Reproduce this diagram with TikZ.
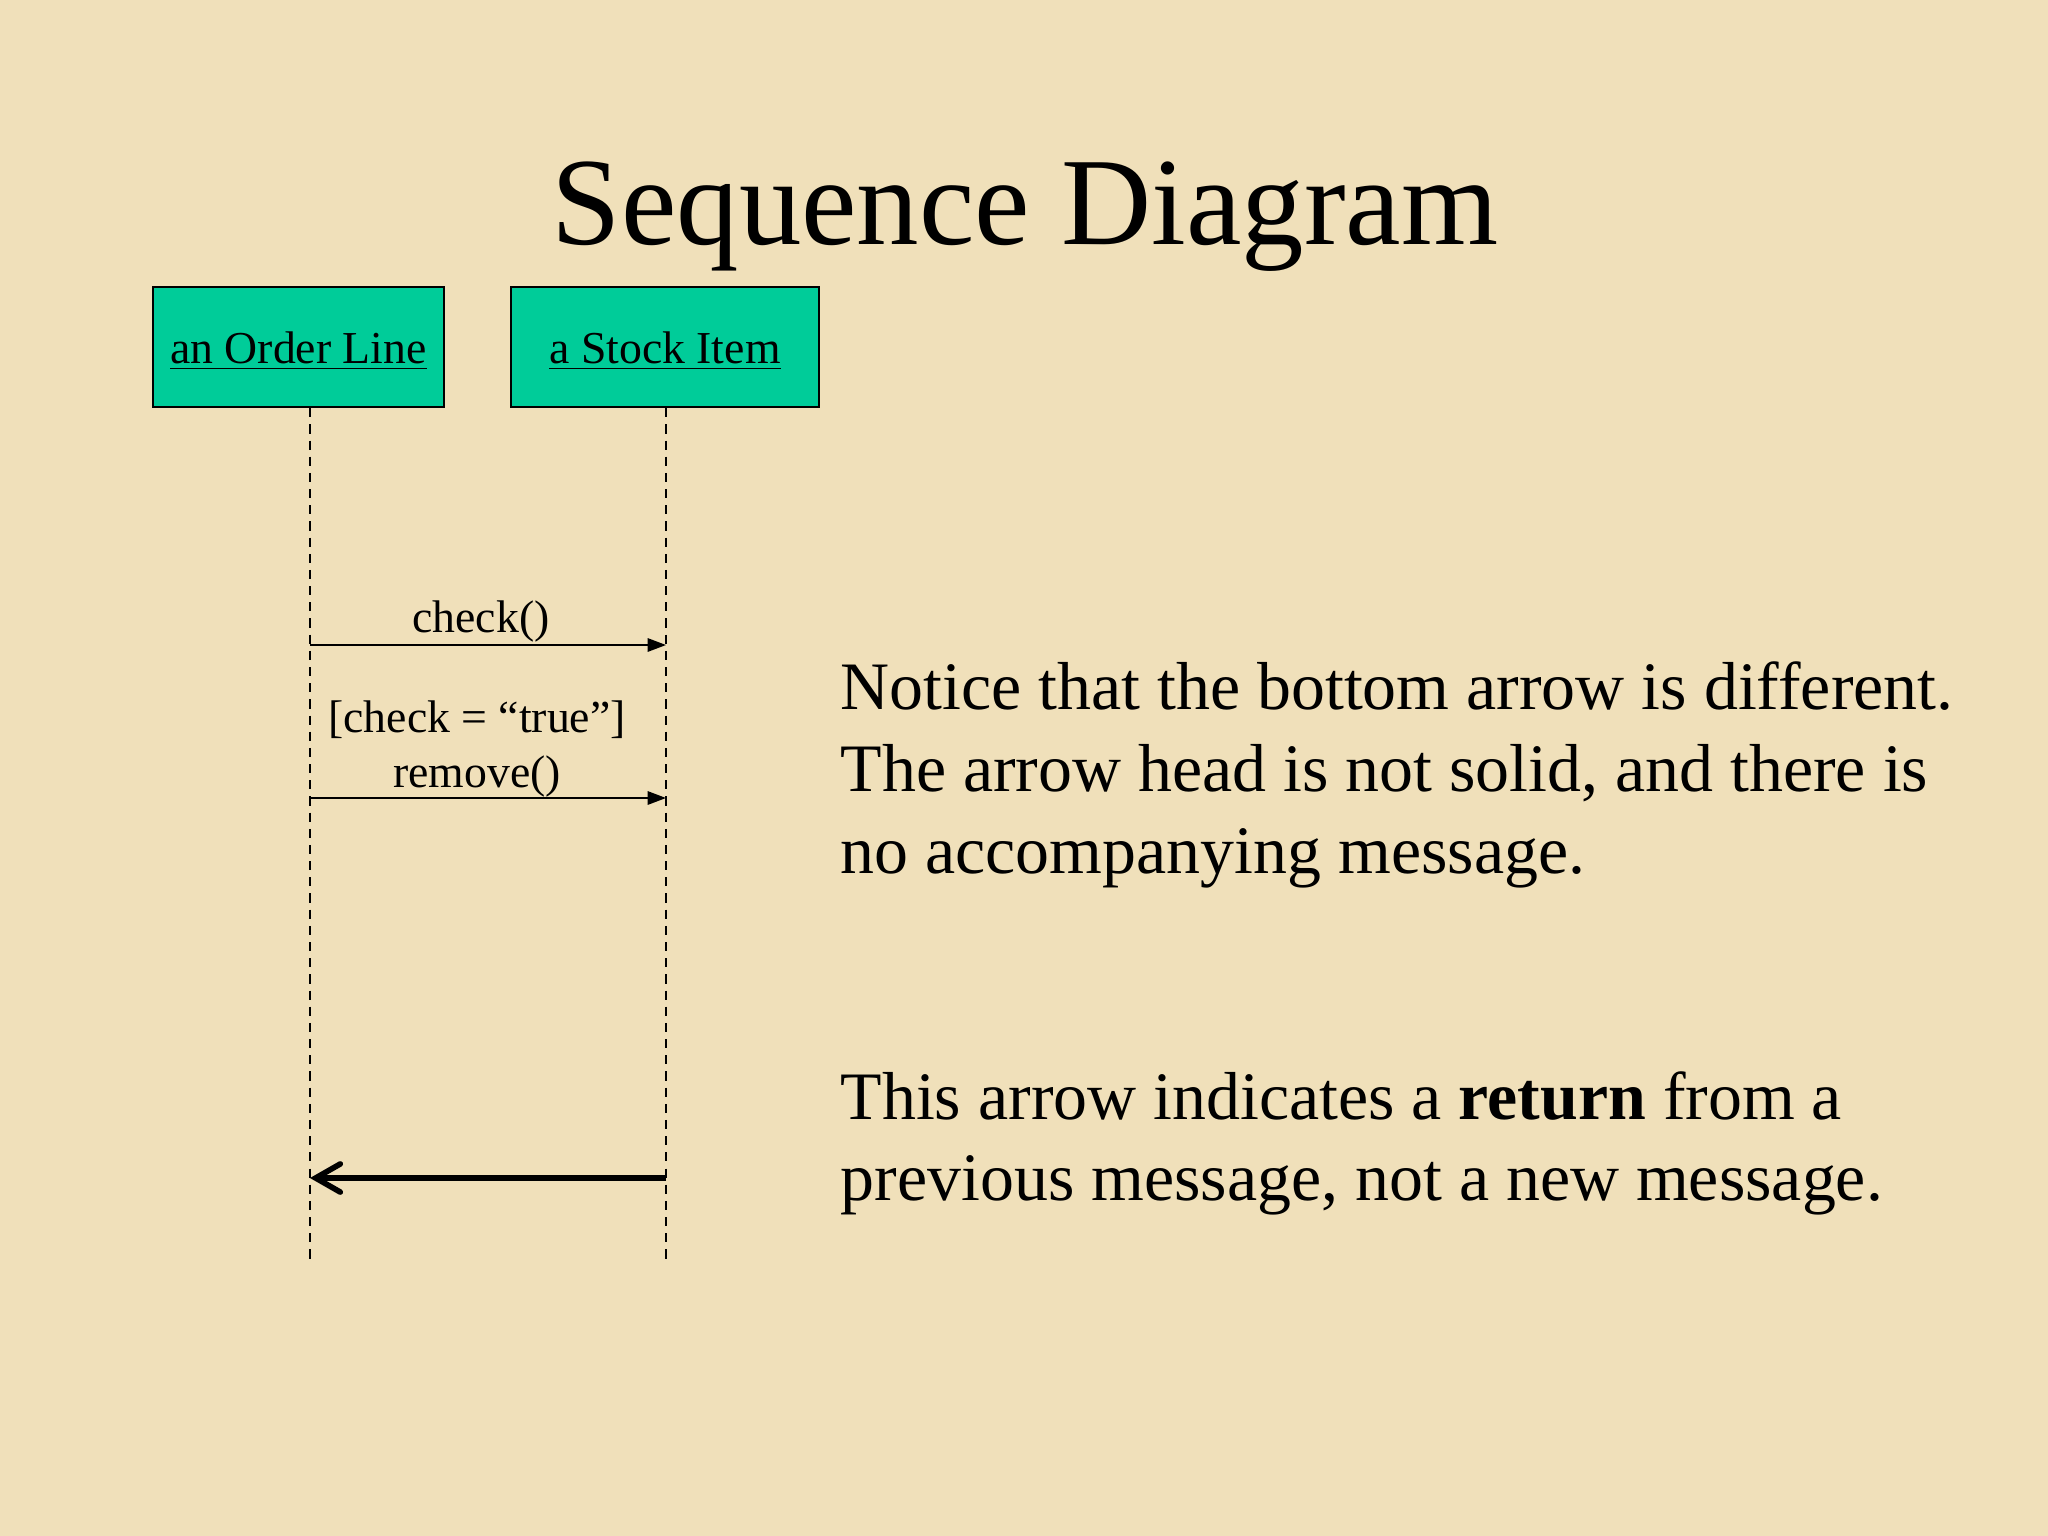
\documentclass[tikz,border=0pt]{standalone}
\usepackage{fontspec}
\setmainfont{Liberation Serif}
\usepackage{xcolor}
\usetikzlibrary{arrows.meta}
\definecolor{parchment}{RGB}{240,224,186}
\definecolor{objteal}{RGB}{0,204,153}

\begin{document}
\begin{tikzpicture}[x=0.01cm,y=-0.01cm,
	objbox/.style={draw=black,line width=0.7pt,fill=objteal,minimum height=34.1pt,inner sep=0pt,text height=9.1pt,text depth=0pt,font=\fontsize{13}{15.6}\selectfont},
	lifeline/.style={line width=0.55pt,dash pattern=on 2.6pt off 2pt},
	msg/.style={line width=0.5pt,-{Triangle[length=5.2pt,width=3.8pt]}},
	retmsg/.style={line width=1.6pt,-{Straight Barb[length=7pt,width=8pt,line cap=round]}},
	msglabel/.style={inner sep=0pt,font=\fontsize{13}{15.6}\selectfont,align=center},
	notetext/.style={anchor=base west,inner sep=0pt,font=\fontsize{19.3}{23.3}\selectfont}]
					% Background and title
					\fill[parchment] (0,0) rectangle (2048,1536);
					\node[anchor=base,inner sep=0pt,font=\fontsize{35.5}{40}\selectfont] (title) at (1025,244) {Sequence Diagram};
					% Objects
					\node[objbox,minimum width=82.8pt] (orderline) at (298.5,347) {\underline{an Order Line}};
					\node[objbox,minimum width=87.6pt] (stockitem) at (665,347) {\underline{a Stock Item}};
					% Lifelines
					\coordinate (olEnd) at (310,1260);
					\coordinate (siEnd) at (666,1260);
					\draw[lifeline] (orderline.south -| olEnd) -- (olEnd);
					\draw[lifeline] (stockitem.south -| siEnd) -- (siEnd);
					% Messages
					\coordinate (olCheck) at (310,645);
					\coordinate (siCheck) at (666,645);
					\coordinate (olRemove) at (310,798);
					\coordinate (siRemove) at (666,798);
					\coordinate (olReturn) at (310,1178);
					\coordinate (siReturn) at (666,1178);
					\draw[msg] (olCheck) -- (siCheck);
					\node[msglabel,anchor=base] (checklbl) at (481,632) {check()};
					\draw[msg] (olRemove) -- (siRemove);
					\node[msglabel,anchor=south] (removelbl) at (477,798) {[check = “true”]\\remove()};
					\draw[retmsg] (siReturn) -- (olReturn);
					% Notes
					\node[notetext] (n1) at (840,709) {Notice that the bottom arrow is different.};
					\node[notetext] (n2) at (840,791) {The arrow head is not solid, and there is};
					\node[notetext] (n3) at (840,873) {no accompanying message.};
					\node[notetext] (n4) at (840,1119) {This arrow indicates a \textbf{return} from a};
					\node[notetext] (n5) at (840,1200) {previous message, not a new message.};
				\end{tikzpicture}
\end{document}
